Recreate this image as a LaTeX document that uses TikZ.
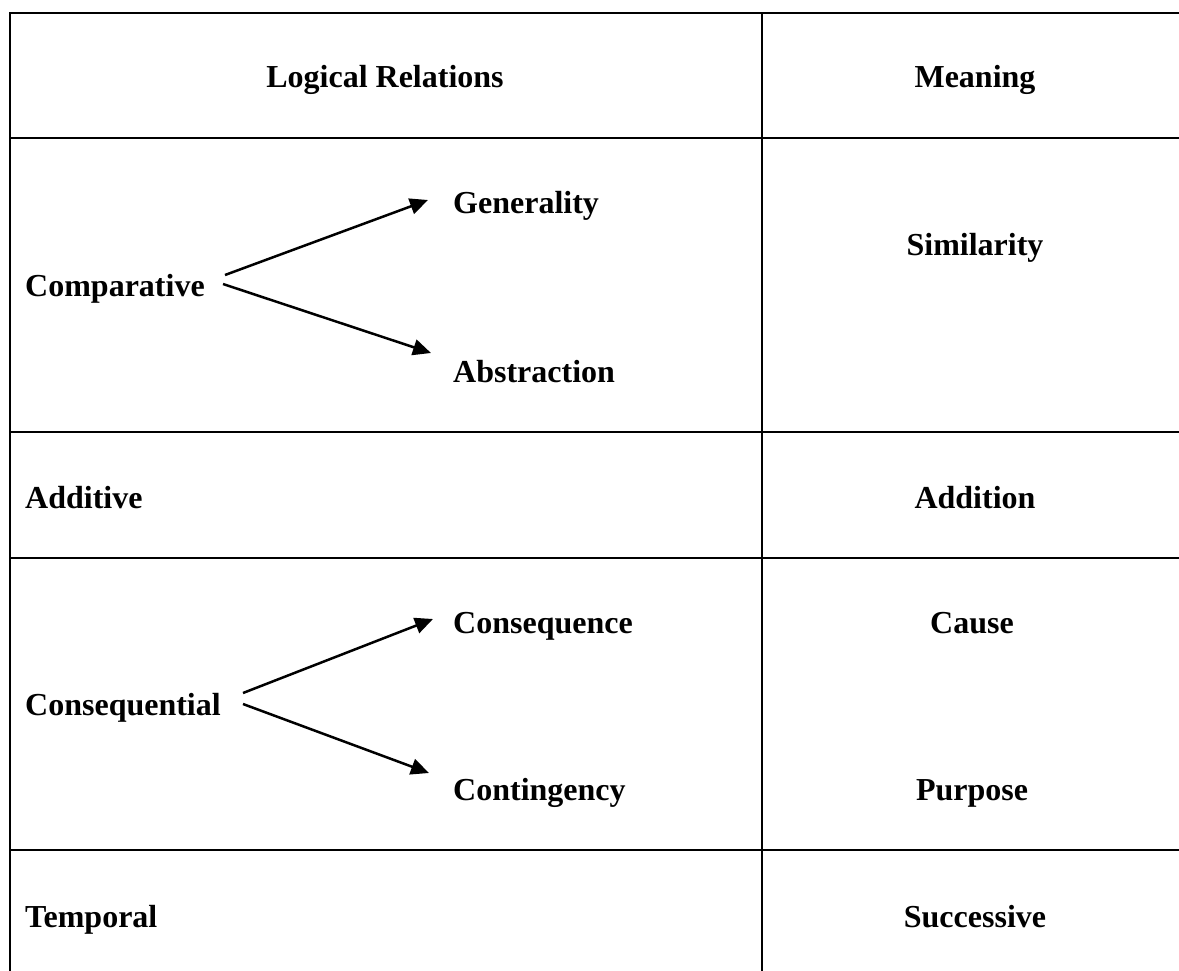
\documentclass[tikz,border=0pt]{standalone}
\usepackage{fontspec}
\setmainfont{Liberation Serif}
\usetikzlibrary{arrows.meta}
\tikzset{
  grid/.style={line width=2.8pt, line cap=rect},
  lbl/.style={inner sep=0pt, font=\fontsize{32}{38}\selectfont\bfseries},
  lft/.style={lbl, anchor=base west},
  ctr/.style={lbl, anchor=base},
  arr/.style={line width=2.5pt, -{Triangle[length=18pt,width=16pt]}}
}
\begin{document}
\begin{tikzpicture}[x=1pt,y=-1pt]
\useasboundingbox (0,0) rectangle (1179,970);
% grid
\draw[grid] (10,13) -- (1179,13);
\draw[grid] (10,13) -- (10,970);
\draw[grid] (762,13) -- (762,970);
\draw[grid] (10,138) -- (1179,138);
\draw[grid] (10,432) -- (1179,432);
\draw[grid] (10,558) -- (1179,558);
\draw[grid] (10,850) -- (1179,850);
% header
\node[ctr] (hl) at (385,87) {Logical Relations};
\node[ctr] (hm) at (975,87) {Meaning};
% comparative
\node[lft] (comp) at (25,296) {Comparative};
\node[lft] (gen) at (453,213) {Generality};
\node[lft] (abs) at (453,382) {Abstraction};
\node[ctr] (sim) at (975,255) {Similarity};
\coordinate (c1) at (225,275);
\coordinate (c2) at (223,284);
\coordinate (g1) at (428,200);
\coordinate (a1) at (431,353);
\draw[arr] (c1) -- (g1);
\draw[arr] (c2) -- (a1);
% additive
\node[lft] (add) at (25,508) {Additive};
\node[ctr] (addn) at (975,508) {Addition};
% consequential
\node[lft] (cons) at (25,715) {Consequential};
\node[lft] (conq) at (453,633) {Consequence};
\node[lft] (cont) at (453,800) {Contingency};
\node[ctr] (cause) at (972,633) {Cause};
\node[ctr] (purp) at (972,800) {Purpose};
\coordinate (d1) at (243,693);
\coordinate (d2) at (243,704);
\coordinate (q1) at (433,619);
\coordinate (t1) at (429,773);
\draw[arr] (d1) -- (q1);
\draw[arr] (d2) -- (t1);
% temporal
\node[lft] (temp) at (25,927) {Temporal};
\node[ctr] (succ) at (975,927) {Successive};
\end{tikzpicture}
\end{document}
